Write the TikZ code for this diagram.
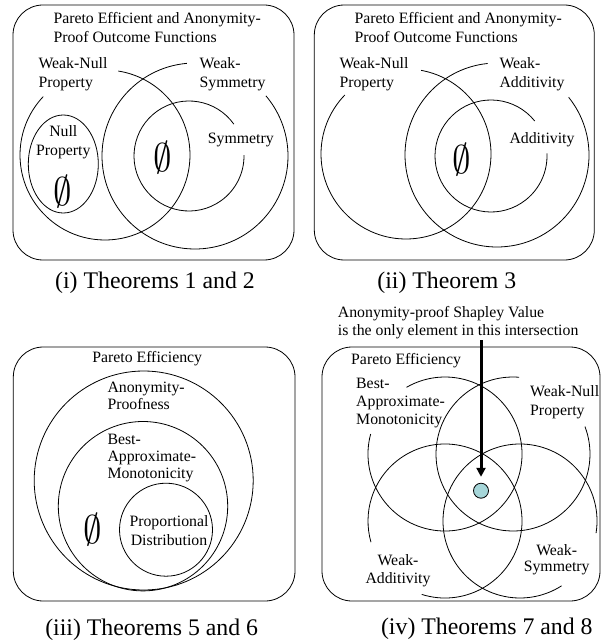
\documentclass[tikz,border=0pt]{standalone}
\usepackage{fontspec}
\usepackage{graphicx}
\setmainfont{Liberation Serif}
\usetikzlibrary{arrows.meta}
\definecolor{dotcol}{RGB}{166,214,217}
\newcommand\openarc[4]{\draw[ln] (#1) ++(-#3:#2) arc[start angle=-#3, end angle=-#4, radius=#2];}
\begin{document}
\begin{tikzpicture}[x=1pt, y=-1pt,
  ln/.style={line width=0.8pt},
  frame/.style={line width=0.8pt, rounded corners=30pt},
  lbl/.style={inner sep=0pt, font=\fontsize{15.8}{18.3}\selectfont},
  lbltight/.style={inner sep=0pt, font=\fontsize{15.8}{17}\selectfont},
  captxt/.style={inner sep=0pt, anchor=base, font=\fontsize{23.8}{26}\selectfont},
  es/.style={inner sep=0pt, font=\fontsize{10}{12}\selectfont},
  arr/.style={line width=3pt, shorten >=6pt, -{Triangle[width=9pt,length=9pt]}}]
\useasboundingbox (0,0) rectangle (613,644);

% ---------------- Panel (i)   (multi-line nodes: base = last line)
\draw[frame] (13,5) rectangle (294,260);
\node[lbl, anchor=base west, align=left] (ititle) at (53.3,42.3) {Pareto Efficient and Anonymity-\\Proof Outcome Functions};
\openarc{105,155}{85}{136.6}{441}
\openarc{195,156}{93}{95}{400.3}
\openarc{189,156}{55}{35.4}{361}
\draw[ln] (63.3,164) ellipse[x radius=35, y radius=49];
\node[lbl, anchor=base west, align=left] (iwn) at (38.3,87.3) {Weak-Null\\Property};
\node[lbl, anchor=base west, align=left] (iws) at (199.5,87.3) {Weak-\\Symmetry};
\node[lbl, anchor=base west] (isym) at (207.7,144) {Symmetry};
\node[lbl, anchor=base, align=center] (inull) at (63.3,155.3) {Null\\Property};
\node[es] (ie1) at (63,191.7) {\scalebox{3.7}[4]{$\emptyset$}};
\node[es] (ie2) at (162.5,157.5) {\scalebox{3.7}[4]{$\emptyset$}};
\node[captxt] (icap) at (155,288) {(i) Theorems 1 and 2};

% ---------------- Panel (ii)
\draw[frame] (314.3,5) rectangle (594.3,260);
\node[lbl, anchor=base west, align=left] (iititle) at (354.3,42.3) {Pareto Efficient and Anonymity-\\Proof Outcome Functions};
\openarc{406,154}{85}{136}{439.8}
\openarc{497,155}{92}{95.8}{398.9}
\openarc{491,156}{56}{38.7}{362.8}
\node[lbl, anchor=base west, align=left] (iiwn) at (339.3,87.3) {Weak-Null\\Property};
\node[lbl, anchor=base west, align=left] (iiwa) at (499.3,87.3) {Weak-\\Additivity};
\node[lbl, anchor=base west] (iiadd) at (509.3,144) {Additivity};
\node[es] (iie) at (461.8,160) {\scalebox{3.7}[4]{$\emptyset$}};
\node[captxt] (iicap) at (446.8,288) {(ii) Theorem 3};

% ---------------- Panel (iii)
\draw[frame] (13.3,347) rectangle (295,601);
\draw[ln] (143.7,480.5) circle[radius=109.5];
\draw[ln] (143,506.2) circle[radius=84.7];
\draw[ln] (166,529.7) circle[radius=46.5];
\node[lbl, anchor=base] (iiipe) at (147.2,362) {Pareto Efficiency};
\node[lbltight, anchor=base west, align=left] (iiianon) at (107.3,409) {Anonymity-\\Proofness};
\node[lbltight, anchor=base west, align=left] (iiibest) at (107.3,478) {Best-\\Approximate-\\Monotonicity};
\node[inner sep=0pt, font=\fontsize{15.8}{19}\selectfont, anchor=base, align=center] (iiiprop) at (169,545.7) {Proportional\\Distribution};
\node[es] (iiie) at (92.5,529.2) {\scalebox{3.7}[4]{$\emptyset$}};
\node[captxt] (iiicap) at (151.7,635) {(iii) Theorems 5 and 6};

% ---------------- Panel (iv)
\draw[frame] (322,347) rectangle (600,601);
\openarc{445,454}{77}{165}{480}
\openarc{513,454}{77}{85.5}{380.9}
\openarc{445,521}{77}{252.4}{556}
\openarc{520,521}{77}{351}{662.7}
\node[inner sep=0pt, font=\fontsize{15.8}{17.7}\selectfont, anchor=base west, align=left] (ivnote) at (337.7,335) {Anonymity-proof Shapley Value\\is the only element in this intersection};
\node[lbl, anchor=base west] (ivpe) at (351,364) {Pareto Efficiency};
\node[lbl, anchor=base west, align=left] (ivbest) at (356,424.9) {Best-\\Approximate-\\Monotonicity};
\node[lbl, anchor=base west, align=left] (ivwn) at (530,415) {Weak-Null\\Property};
\node[lbl, anchor=base, align=center] (ivwa) at (398,583.3) {Weak-\\Additivity};
\node[inner sep=0pt, font=\fontsize{15.8}{16.7}\selectfont, anchor=base, align=center] (ivws) at (556.7,571.7) {Weak-\\Symmetry};
\node[circle, draw, line width=0.8pt, fill=dotcol, minimum size=15pt, inner sep=0pt] (dot) at (481,490.7) {};
\coordinate (arrstart) at (481,340);
\draw[arr] (arrstart) -- (dot.north);
\node[captxt] (ivcap) at (486.8,634) {(iv) Theorems 7 and 8};
\end{tikzpicture}
\end{document}
